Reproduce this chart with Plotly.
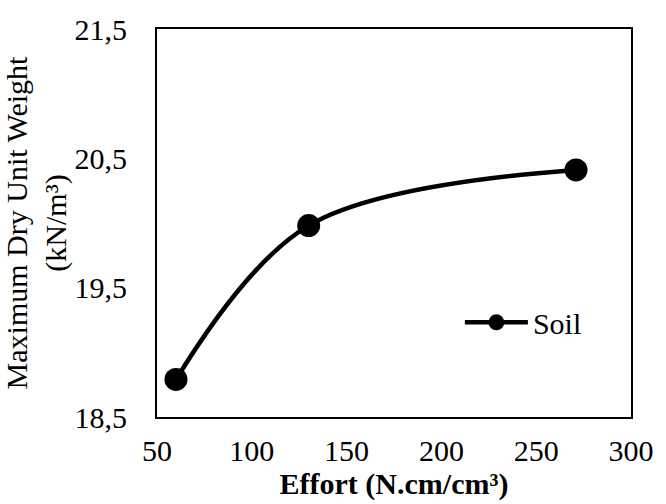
import plotly.graph_objects as go

effort = [60, 130, 271]
dry_unit_weight = [18.79, 19.98, 20.41]
series_name = "Soil"

x_ticks = [50, 100, 150, 200, 250, 300]
y_ticks = [18.5, 19.5, 20.5, 21.5]

font_family = "Liberation Serif"

fig = go.Figure()
fig.add_trace(go.Scatter(
    x=effort, y=dry_unit_weight, name=series_name,
    mode="lines+markers",
    line=dict(color="black", width=4.5, shape="spline", smoothing=1),
    marker=dict(color="black", size=23),
))

fig.update_layout(
    width=666, height=504,
    margin=dict(l=155, r=26, t=23, b=87),
    paper_bgcolor="white", plot_bgcolor="white",
    separators=", ",
    font=dict(family=font_family, color="black", size=30),
    showlegend=True,
    legend=dict(x=0.639, y=0.244, xanchor="left", yanchor="middle",
                itemwidth=63,
                bgcolor="rgba(0,0,0,0)", font=dict(family=font_family, size=30)),
)
fig.update_xaxes(
    range=[50, 300], tickvals=x_ticks, ticks="", showgrid=False, zeroline=False,
    showline=True, linecolor="black", linewidth=2, mirror=True,
    ticklabelstandoff=6,
    tickfont=dict(family=font_family, size=30),
    title=dict(text="<b>Effort (N.cm/cm³)</b>", font=dict(family=font_family, size=30), standoff=0),
)
fig.update_yaxes(
    range=[18.5, 21.5], tickvals=y_ticks, tickformat=".1f", ticks="", showgrid=False,
    zeroline=False, showline=True, linecolor="black", linewidth=2, mirror=True,
    ticklabelstandoff=22,
    tickfont=dict(family=font_family, size=30),
    title=dict(text="Maximum Dry Unit Weight<br>(kN/m³)", font=dict(family=font_family, size=30), standoff=2),
)

fig.write_html("out.html")
